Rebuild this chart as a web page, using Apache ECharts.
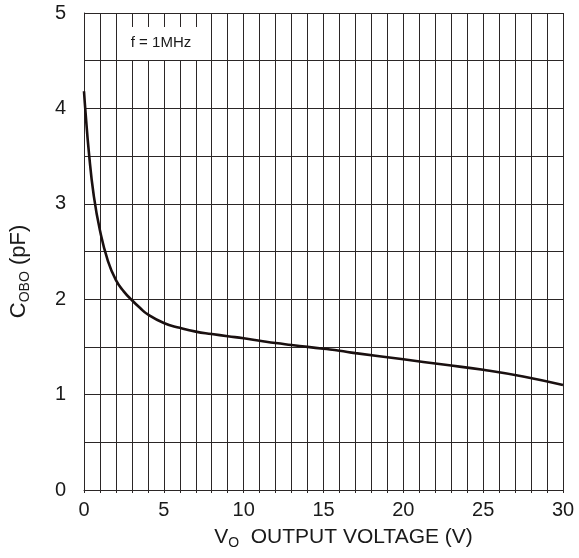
<!DOCTYPE html>
<html>
<head>
<meta charset="utf-8">
<script src="https://cdn.jsdelivr.net/npm/echarts@6/dist/echarts.min.js"></script>
<style>
html,body{margin:0;padding:0;background:#fff;}
#chart{width:579px;height:558px;}
</style>
</head>
<body>
<div id="chart"></div>
<script>
var voltage = [0, 0.1, 0.3, 0.6, 1.0, 1.5, 2.0, 2.5, 3.0, 3.5, 4, 5, 6, 7, 8, 9, 10, 11, 12, 13, 14, 15, 16, 17, 20, 22.5, 25, 27.5, 30];
var cobo    = [4.18, 3.95, 3.55, 3.1, 2.72, 2.40, 2.20, 2.08, 1.99, 1.91, 1.84, 1.75, 1.70, 1.66, 1.635, 1.612, 1.59, 1.565, 1.54, 1.52, 1.50, 1.48, 1.46, 1.435, 1.37, 1.315, 1.26, 1.19, 1.10];
var xTicks = [0, 5, 10, 15, 20, 25, 30];
var yTicks = [0, 1, 2, 3, 4, 5];
var noteText = 'f = 1MHz';

var data = voltage.map(function (v, i) { return [v, cobo[i]]; });
var font = '"Liberation Sans", Arial, sans-serif';
var gridColor = '#2b2626';

var chart = echarts.init(document.getElementById('chart'));
chart.setOption({
  animation: false,
  backgroundColor: '#fff',
  grid: { left: 84, right: 16, top: 13, bottom: 68, containLabel: false },
  xAxis: {
    type: 'value', min: xTicks[0], max: xTicks[xTicks.length - 1], interval: 5,
    axisLine: { show: true, lineStyle: { color: gridColor, width: 1 } },
    axisTick: { show: true, length: 3, lineStyle: { color: gridColor } },
    minorTick: { show: true, splitNumber: 5, length: 3, lineStyle: { color: gridColor } },
    splitLine: { show: true, lineStyle: { color: gridColor, width: 1 } },
    minorSplitLine: { show: true, lineStyle: { color: gridColor, width: 1 } },
    axisLabel: { color: '#1a1a1a', fontSize: 20, fontFamily: font, margin: 10 },
    name: '{m|V}{s|O}{m|  OUTPUT VOLTAGE (V)}',
    nameLocation: 'middle', nameGap: 34,
    nameTextStyle: {
      padding: [0, 0, 0, 40],
      rich: {
        m: { fontSize: 21, fontFamily: font, color: '#1a1a1a', lineHeight: 26 },
        s: { fontSize: 14, fontFamily: font, color: '#1a1a1a', lineHeight: 12, verticalAlign: 'bottom' }
      }
    }
  },
  yAxis: {
    type: 'value', min: yTicks[0], max: yTicks[yTicks.length - 1], interval: 1,
    axisLine: { show: true, lineStyle: { color: gridColor, width: 1 } },
    axisTick: { show: false },
    minorTick: { show: false, splitNumber: 2 },
    splitLine: { show: true, lineStyle: { color: gridColor, width: 1 } },
    minorSplitLine: { show: true, lineStyle: { color: gridColor, width: 1 } },
    axisLabel: { color: '#1a1a1a', fontSize: 20, fontFamily: font, margin: 18 },
    name: '{m|C}{s|OBO}{m| (pF)}',
    nameLocation: 'middle', nameGap: 52,
    nameTextStyle: {
      padding: [0, 40, 0, 0],
      rich: {
        m: { fontSize: 22, fontFamily: font, color: '#1a1a1a', lineHeight: 26 },
        s: { fontSize: 14, fontFamily: font, color: '#1a1a1a', lineHeight: 12, verticalAlign: 'bottom' }
      }
    }
  },
  graphic: [{
    type: 'rect', left: 118, top: 27, z: 100,
    shape: { width: 91, height: 33 },
    style: { fill: '#fff' }
  }, {
    type: 'text', x: 161, y: 43, z: 101,
    style: {
      text: noteText, fontSize: 15, fontFamily: font, fill: '#1a1a1a',
      align: 'center', verticalAlign: 'middle'
    }
  }],
  series: [{
    type: 'line', data: data, symbol: 'none', smooth: 0.5,
    lineStyle: { color: '#1a1010', width: 2.6 }, z: 5
  }]
});
</script>
</body>
</html>
